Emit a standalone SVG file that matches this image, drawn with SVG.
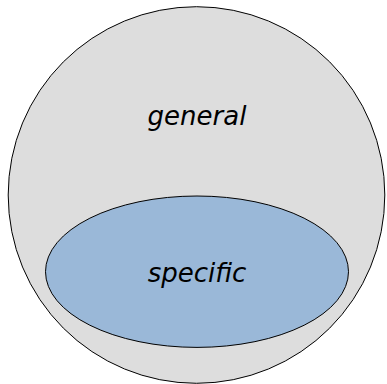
<svg xmlns="http://www.w3.org/2000/svg" width="387" height="384" viewBox="0 0 387 384">
<style>
.shape{stroke:#000;stroke-width:1}
.lbl{font-family:"DejaVu Sans",sans-serif;font-style:italic;font-size:26px;fill:#000;text-anchor:middle}
</style>
<rect width="387" height="384" fill="#fff"/>
<g id="general">
<circle class="shape" cx="196.5" cy="195" r="188.3" fill="#dddddd"/>
<text class="lbl" x="197" y="125">general</text>
</g>
<g id="specific">
<ellipse class="shape" cx="197" cy="271.7" rx="151.5" ry="75.7" fill="#9ab8d8"/>
<text class="lbl" x="197" y="282">specific</text>
</g>
<g id="connectors"/>
</svg>
